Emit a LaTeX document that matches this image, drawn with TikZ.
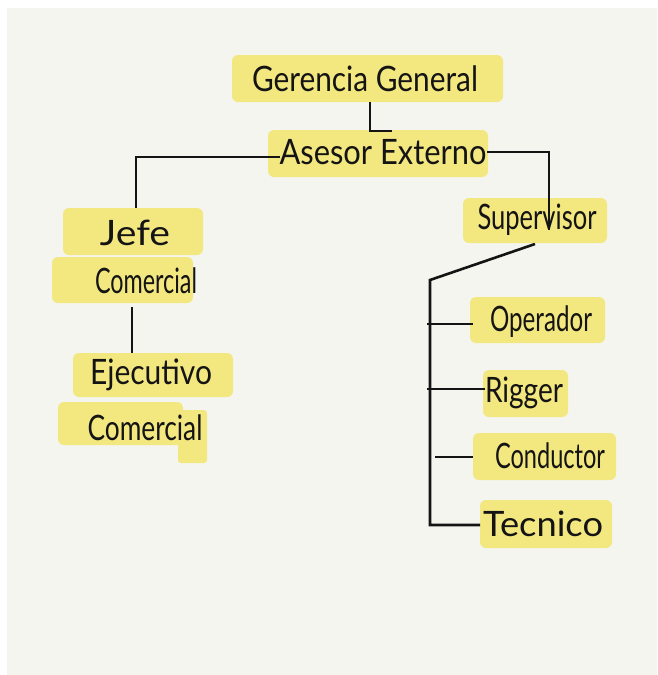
\documentclass[tikz,border=0pt]{standalone}
\usepackage{fontspec}
\usepackage{graphicx}
\setmainfont{Lato}

\definecolor{paper}{RGB}{245,245,240}
\definecolor{marker}{RGB}{243,231,128}
\definecolor{ink}{RGB}{20,20,20}

% squeeze or stretch a word to a given width, keeping its height
\newcommand{\handw}[2]{\resizebox{#1}{\height}{#2}}

\tikzset{
  hl/.style={fill=marker, draw=none, rounded corners=6pt, inner sep=0pt, outer sep=0pt},
  word/.style={font=\fontsize{35}{38}\selectfont, text=ink, inner sep=0pt},
  wire/.style={draw=ink, line width=2.6pt}
}

\begin{document}
\begin{tikzpicture}[x=1pt,y=-1pt]
\useasboundingbox (0,0) rectangle (657,675);

% sheet
\fill[white] (0,0) rectangle (657,675);
\fill[paper] (7,8) rectangle (657,675);

% marker highlights
\node[hl, minimum width=271pt, minimum height=47pt] (ger)   at (367.5,78.5) {};
\node[hl, minimum width=220pt, minimum height=47pt] (ase)   at (378,153.5) {};
\node[hl, minimum width=140pt, minimum height=47pt] (jefeA) at (133,231.5) {};
\node[hl, minimum width=141pt, minimum height=46pt] (jefeB) at (122.5,280) {};
\node[hl, minimum width=160pt, minimum height=44pt] (ejeA)  at (153,375) {};
\node[hl, minimum width=125pt, minimum height=43pt] (ejeB)  at (120.5,423.5) {};
\node[hl, minimum width=29pt,  minimum height=53pt, rounded corners=3pt] (ejeC) at (192.5,436.5) {};
\node[hl, minimum width=144pt, minimum height=45pt] (sup)   at (535,220.5) {};
\node[hl, minimum width=135pt, minimum height=46pt] (op)    at (537.5,320) {};
\node[hl, minimum width=85pt,  minimum height=47pt] (rig)   at (525.5,393.5) {};
\node[hl, minimum width=143pt, minimum height=47pt] (con)   at (544.5,456.5) {};
\node[hl, minimum width=132pt, minimum height=48pt] (tec)   at (546,524) {};

% connectors
\coordinate (gaTurn) at (392,131);
\draw[wire] ([xshift=2.5pt]ger.south) |- (gaTurn);

\coordinate (aseL) at (280,157);
\draw[wire] (aseL) -| ([xshift=3pt]jefeA.north);

\coordinate (aseR) at (487,152);
\coordinate (supIn) at (549,230);
\draw[wire] (aseR) -| (supIn);

\coordinate (jefeOut) at (132,307);
\draw[wire] (jefeOut) -- (jefeOut |- ejeA.north);

\coordinate (trunkTop) at (430,280);
\draw[wire] ([yshift=-1pt]sup.south) -- (trunkTop) |- ([yshift=-1pt]tec.west);

\coordinate (bOp)  at (427,324);
\coordinate (bRig) at (427,389);
\coordinate (bCon) at (435,457);
\draw[wire] (bOp)  -- ([xshift=3pt]bOp -| op.west);
\draw[wire] (bRig) -- ([xshift=2pt]bRig -| rig.west);
\draw[wire] (bCon) -- (bCon -| con.west);

% words
\node[word] (tGer) at (365,79)  {\handw{226pt}{Gerencia General}};
\node[word] (tAse) at (383,152) {\handw{207pt}{Asesor Externo}};
\node[word] (tJe1) at (135,233) {\handw{70pt}{Jefe}};
\node[word] (tJe2) at (146,281) {\handw{102pt}{Comercial}};
\node[word] (tEj1) at (151,375) {\handw{122pt}{Ejecutivo}};
\node[word] (tEj2) at (145,428) {\handw{115pt}{Comercial}};
\node[word] (tSup) at (537,220) {\handw{119pt}{Supervisor}};
\node[word] (tOp)  at (541,322) {\handw{102pt}{Operador}};
\node[word] (tRig) at (524,393) {\handw{78pt}{Rigger}};
\node[word] (tCon) at (550,456) {\handw{110pt}{Conductor}};
\node[word] (tTec) at (543,524) {\handw{120pt}{Tecnico}};
\end{tikzpicture}
\end{document}
